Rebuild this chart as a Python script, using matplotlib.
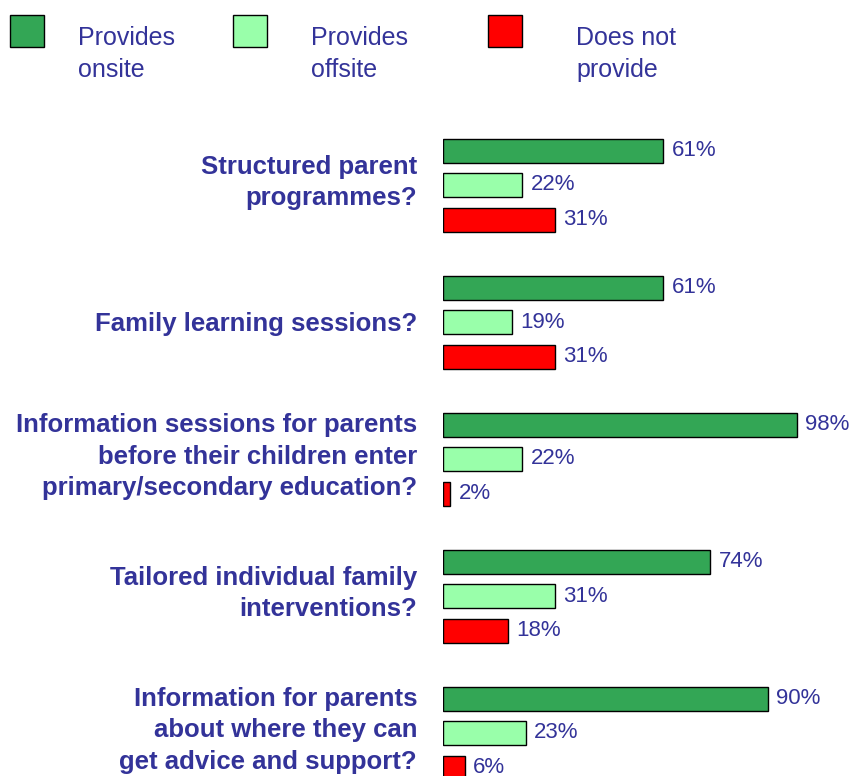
import matplotlib
matplotlib.use("Agg")
import matplotlib.pyplot as plt
from matplotlib.patches import Rectangle
import numpy as np

categories = [
    "Structured parent\nprogrammes?",
    "Family learning sessions?",
    "Information sessions for parents\nbefore their children enter\nprimary/secondary education?",
    "Tailored individual family\ninterventions?",
    "Information for parents\nabout where they can\nget advice and support?",
]
series_names = ["Provides\nonsite", "Provides\noffsite", "Does not\nprovide"]
onsite = [61, 61, 98, 74, 90]
offsite = [22, 19, 22, 31, 23]
not_provide = [31, 31, 2, 18, 6]

colors = ["#33A655", "#99FFAA", "#FF0000"]
text_color = "#333399"

W, H = 852, 776
fig = plt.figure(figsize=(W / 100, H / 100), dpi=100)
plt.rcParams['font.family'] = ['Liberation Sans', 'DejaVu Sans']

# axes occupy bar region; y in pixel-like units
ax_left, ax_width = 443, 361
ax = fig.add_axes([ax_left / W, 0, ax_width / W, 1])
ax.set_xlim(0, 100)
ax.set_ylim(H, 0)
ax.axis("off")

group_centers = 185 + 137 * np.arange(len(categories))
offsets = [-34.5, 0, 34.5]
series = [onsite, offsite, not_provide]
for s, vals in enumerate(series):
    ys = group_centers + offsets[s]
    ax.barh(ys, vals, height=24, left=0, color=colors[s],
            edgecolor="black", linewidth=1.0, clip_on=True)
    for y, v in zip(ys, vals):
        ax.annotate(f"{v}%", xy=(v, y), xytext=(6, 0), textcoords="offset points",
                    ha="left", va="center", fontsize=16, color=text_color,
                    annotation_clip=False)

line_gap = 31.5
for c, y in zip(categories, group_centers):
    lines = c.split("\n")
    n = len(lines)
    shift = 2 if n == 1 else -3
    for k, ln in enumerate(lines):
        yc = y + shift + (k - (n - 1) / 2) * line_gap
        ax.text(-26 * 100 / ax_width, yc + 7.5, ln, ha="right", va="baseline",
                fontsize=18.5, fontweight="bold", color=text_color, clip_on=False)

# legend
sq_x = [10, 233, 488]
tx_x = [78, 311, 576]
for i in range(3):
    fig.add_artist(Rectangle((sq_x[i] / W, 1 - 47 / H), 34 / W, 32 / H,
                             transform=fig.transFigure, facecolor=colors[i],
                             edgecolor="black", linewidth=1.0))
    fig.text(tx_x[i] / W, 1 - 54 / H, series_names[i], ha="left", va="center",
             fontsize=18, color=text_color, linespacing=1.4)

fig.savefig("out.png", dpi=100)
